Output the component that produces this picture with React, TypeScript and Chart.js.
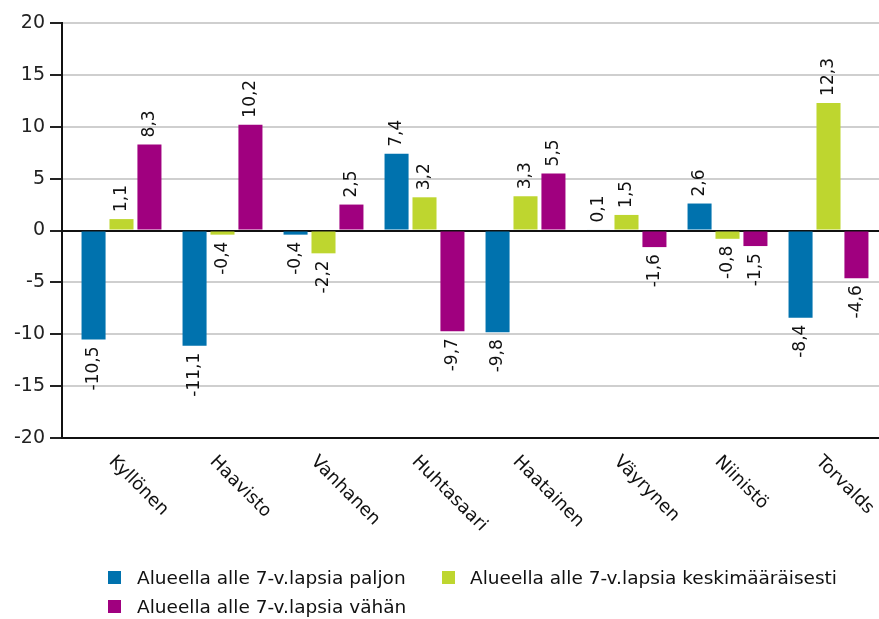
import React, { useEffect, useRef } from "react";
import { Chart, registerables } from "chart.js";
Chart.register(...registerables);

const categories = ["Kyllönen", "Haavisto", "Vanhanen", "Huhtasaari", "Haatainen", "Väyrynen", "Niinistö", "Torvalds"];
const seriesNames = [
  "Alueella alle 7-v.lapsia paljon",
  "Alueella alle 7-v.lapsia keskimääräisesti",
  "Alueella alle 7-v.lapsia vähän",
];
const paljon = [-10.5, -11.1, -0.4, 7.4, -9.8, 0.1, 2.6, -8.4];
const keskimaarainen = [1.1, -0.4, -2.2, 3.2, 3.3, 1.5, -0.8, 12.3];
const vahan = [8.3, 10.2, 2.5, -9.7, 5.5, -1.6, -1.5, -4.6];
const colors = ["#0072ae", "#bed62f", "#a0007f"];
const yMin = -20;
const yMax = 20;
const yStep = 5;

const fmt = (v: number) => v.toFixed(1).replace(".", ",");

const shiftPlugin = {
  id: "shiftX",
  afterLayout(chart: any) {
    const x = chart.scales.x;
    x.left = chart.chartArea.left + 9;
    x.configure();
  },
};

const labelsPlugin = {
  id: "valueLabels",
  afterDatasetsDraw(chart: any) {
    const ctx = chart.ctx;
    ctx.save();
    ctx.font = "17px 'DejaVu Sans'";
    ctx.fillStyle = "#111";
    chart.data.datasets.forEach((ds: any, di: number) => {
      const meta = chart.getDatasetMeta(di);
      meta.data.forEach((bar: any, i: number) => {
        const v = ds.data[i];
        ctx.save();
        ctx.translate(bar.x, bar.y + (v >= 0 ? -7 : 7));
        ctx.rotate(-Math.PI / 2);
        ctx.textAlign = v >= 0 ? "left" : "right";
        ctx.textBaseline = "middle";
        ctx.fillText(fmt(v), 0, 0);
        ctx.restore();
      });
    });
    ctx.restore();
  },
  afterDraw(chart: any) {
    const ctx = chart.ctx;
    const xs = chart.scales.x;
    ctx.save();
    ctx.font = "18px 'DejaVu Sans'";
    ctx.fillStyle = "#111";
    categories.forEach((c, i) => {
      const cx = xs.getPixelForValue(i);
      ctx.save();
      ctx.translate(cx - 10, chart.chartArea.bottom + 21);
      ctx.rotate(Math.PI / 4);
      ctx.textAlign = "left";
      ctx.textBaseline = "middle";
      ctx.fillText(c, 0, 0);
      ctx.restore();
    });
    // legend
    const items = [
      { x: 108, y: 577, tx: 137 },
      { x: 442, y: 577, tx: 470 },
      { x: 108, y: 606, tx: 137 },
    ];
    ctx.font = "18.5px 'DejaVu Sans'";
    ctx.textAlign = "left";
    ctx.textBaseline = "middle";
    chart.data.datasets.forEach((ds: any, di: number) => {
      const p = items[di];
      ctx.fillStyle = ds.backgroundColor;
      ctx.fillRect(p.x, p.y - 6, 13, 13);
      ctx.fillStyle = "#111";
      ctx.fillText(ds.label, p.tx, p.y + 2);
    });
    ctx.restore();
  },
};

export default function App() {
  const ref = useRef<HTMLCanvasElement>(null);
  useEffect(() => {
    document.body.style.margin = "0";
    const chart = new Chart(ref.current!, {
      type: "bar",
      data: {
        labels: categories,
        datasets: [
          { label: seriesNames[0], data: paljon, backgroundColor: colors[0] },
          { label: seriesNames[1], data: keskimaarainen, backgroundColor: colors[1] },
          { label: seriesNames[2], data: vahan, backgroundColor: colors[2] },
        ],
      },
      options: {
        responsive: false,
        animation: false,
        layout: { padding: { top: 23, right: 0, left: 0, bottom: 0 } },
        datasets: { bar: { categoryPercentage: 0.83, barPercentage: 0.86 } },
        plugins: { legend: { display: false }, tooltip: { enabled: false } },
        scales: {
          x: {
            grid: { display: false },
            border: { display: false },
            ticks: { display: false },
            afterFit: (s: any) => {
              s.height = 181;
            },
          },
          y: {
            min: yMin,
            max: yMax,
            afterFit: (s: any) => {
              s.width = 62;
            },
            ticks: {
              stepSize: yStep,
              padding: 5,
              color: "#222",
              font: { family: "DejaVu Sans", size: 19 },
              callback: (v: any) => String(v),
            },
            grid: {
              color: (c: any) => (c.tick && (c.tick.value === 0 || c.tick.value === yMin) ? "#111" : "#cfcfcf"),
              lineWidth: 2,
              tickColor: "#222",
              tickLength: 12,
              drawTicks: true,
            },
            border: { display: true, color: "#111", width: 2 },
          },
        },
      },
      plugins: [shiftPlugin, labelsPlugin],
    });
    return () => chart.destroy();
  }, []);
  return <canvas ref={ref} width={879} height={619} style={{ display: "block" }} />;
}
